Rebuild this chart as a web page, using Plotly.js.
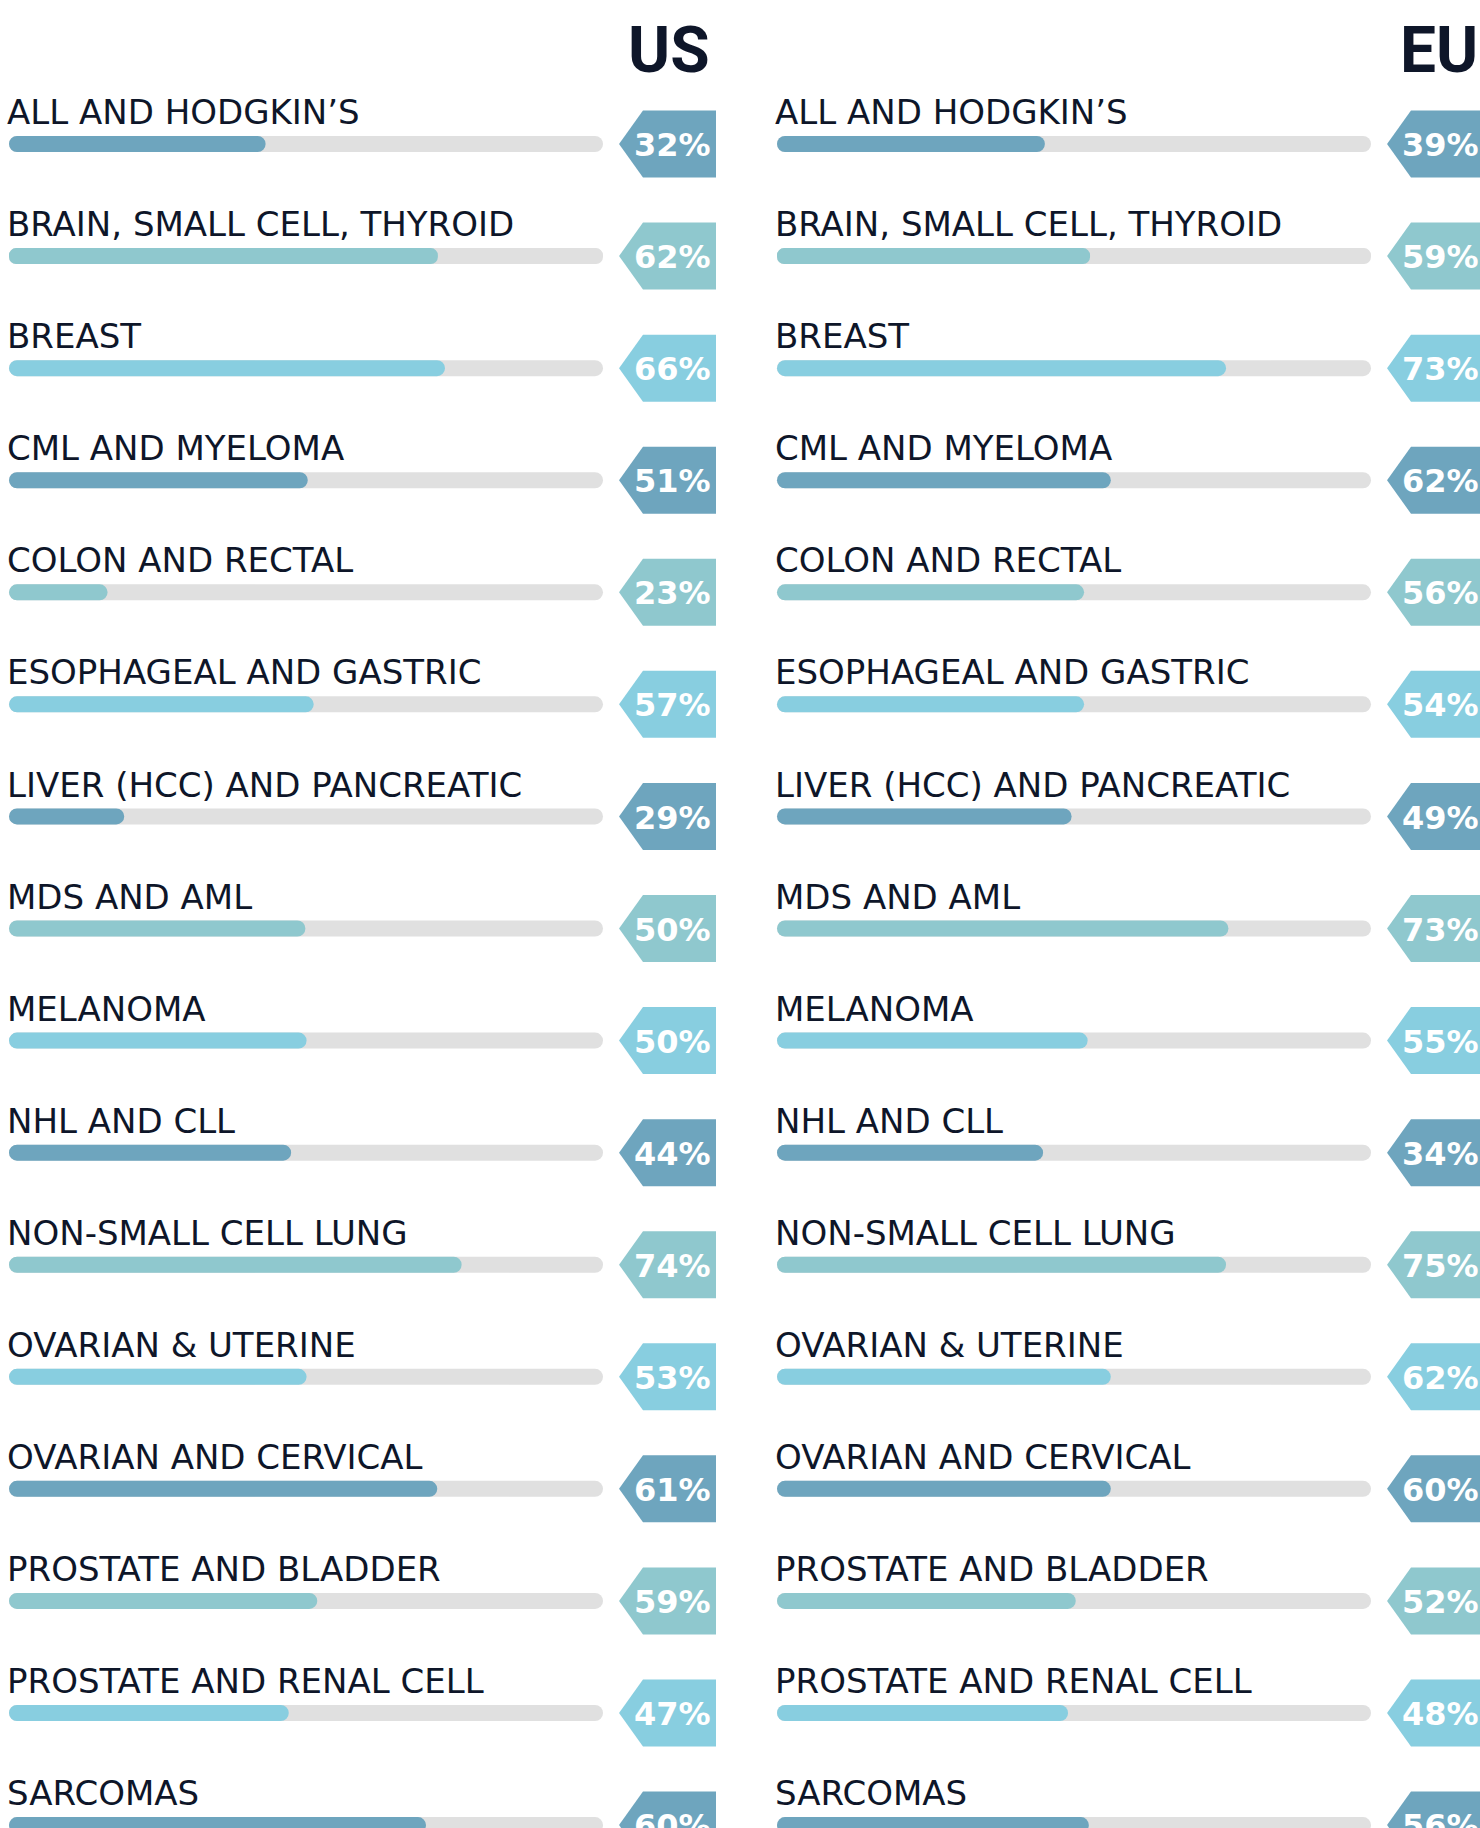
<!DOCTYPE html>
<html><head><meta charset="utf-8">
<script src="https://cdn.plot.ly/plotly-3.0.1.min.js"></script>
<style>html,body{margin:0;padding:0;background:#fff;overflow:hidden}#chart{width:1480px;height:1828px}</style>
</head><body><div id="chart"></div>
<script>
// ---- data ----
const categories = [
  "ALL AND HODGKIN’S", "BRAIN, SMALL CELL, THYROID", "BREAST", "CML AND MYELOMA",
  "COLON AND RECTAL", "ESOPHAGEAL AND GASTRIC", "LIVER (HCC) AND PANCREATIC", "MDS AND AML",
  "MELANOMA", "NHL AND CLL", "NON-SMALL CELL LUNG", "OVARIAN & UTERINE",
  "OVARIAN AND CERVICAL", "PROSTATE AND BLADDER", "PROSTATE AND RENAL CELL", "SARCOMAS"
];
const regions = ["US", "EU"];
// bar fill length, percent of the track, as drawn
const usFill = [43.2, 72.2, 73.4, 50.3, 16.6, 51.3, 19.4, 49.9, 50.1, 47.5, 76.2, 50.1, 72.1, 51.9, 47.1, 70.2];
const euFill = [45.1, 52.7, 75.6, 56.2, 51.7, 51.7, 49.6, 76.0, 52.3, 44.8, 75.6, 56.2, 56.2, 50.3, 49.0, 52.5];
// percentage shown in each tag
const usPct = [32, 62, 66, 51, 23, 57, 29, 50, 50, 44, 74, 53, 61, 59, 47, 60];
const euPct = [39, 59, 73, 62, 56, 54, 49, 73, 55, 34, 75, 62, 60, 52, 48, 56];

// ---- styles ----
const palette = ["#6EA5BE", "#8FC8CE", "#88CEE0"];
const TRACK = "#E0E0E0";
const INK = "#0E1629";
const ROW_PX = 112.07;            // pixels per row
const BAR_W = 16 / ROW_PX;        // bar thickness in row units
const TAG_H = 33.5 / ROW_PX;      // half tag height in row units
const TAG_TIP = 102.7, TAG_SHOULDER = 106.73, TAG_RIGHT = 119.02, TAG_TEXT = 111.7;

const rows = categories.map((_, i) => i);
const esc = s => s.replace(/&/g, "&amp;");

const traces = [], shapes = [], annotations = [];

function panel(fill, pct, xa, region) {
  traces.push({
    type: "bar", orientation: "h", y: rows, x: rows.map(() => 100), base: 0,
    width: BAR_W, xaxis: xa, yaxis: "y", hoverinfo: "skip",
    marker: {color: TRACK, cornerradius: 8, line: {width: 0}}
  });
  traces.push({
    type: "bar", orientation: "h", y: rows, x: fill.map(v => -v), base: fill,
    width: BAR_W, xaxis: xa, yaxis: "y", hoverinfo: "skip",
    marker: {color: rows.map(i => palette[i % 3]), cornerradius: 8, line: {width: 0}}
  });
  rows.forEach(i => {
    shapes.push({
      type: "path", xref: xa, yref: "y", layer: "above", line: {width: 0},
      fillcolor: palette[i % 3],
      path: `M ${TAG_TIP},${i} L ${TAG_SHOULDER},${i - TAG_H} L ${TAG_RIGHT},${i - TAG_H} L ${TAG_RIGHT},${i + TAG_H} L ${TAG_SHOULDER},${i + TAG_H} Z`
    });
    annotations.push({
      xref: xa, yref: "y", x: TAG_TEXT, y: i + 0.01, text: pct[i] + "%",
      showarrow: false, xanchor: "center", yanchor: "middle",
      font: {family: "DejaVu Sans", size: 32, weight: 700, color: "#ffffff"}
    });
    annotations.push({
      xref: xa, yref: "y", x: -0.6, y: i - 0.285, text: esc(categories[i]),
      showarrow: false, xanchor: "left", yanchor: "middle",
      font: {family: "DejaVu Sans", size: 34, color: INK}
    });
  });
  annotations.push({
    xref: xa, yref: "y", x: 118.3, y: -0.83, text: region,
    showarrow: false, xanchor: "right", yanchor: "middle",
    font: {family: "Roboto", size: 64, weight: 700, color: INK}
  });
}

panel(usFill, usPct, "x", regions[0]);
panel(euFill, euPct, "x2", regions[1]);

const hidden = {showgrid: false, zeroline: false, showticklabels: false, showline: false, ticks: "", fixedrange: true};
const layout = {
  width: 1480, height: 1828,
  margin: {l: 0, r: 0, t: 0, b: 0, pad: 0},
  paper_bgcolor: "#ffffff", plot_bgcolor: "rgba(0,0,0,0)",
  showlegend: false, barmode: "overlay",
  xaxis: Object.assign({domain: [0, 0.5], range: [-9 / 5.94, 731 / 5.94]}, hidden),
  xaxis2: Object.assign({domain: [0.5, 1], range: [-37 / 5.94, 703 / 5.94], anchor: "y"}, hidden),
  yaxis: Object.assign({domain: [0, 1], range: [15.026, -1.285]}, hidden),
  shapes: shapes, annotations: annotations
};
Plotly.newPlot("chart", traces, layout, {displayModeBar: false, staticPlot: true});
</script>
</body></html>
